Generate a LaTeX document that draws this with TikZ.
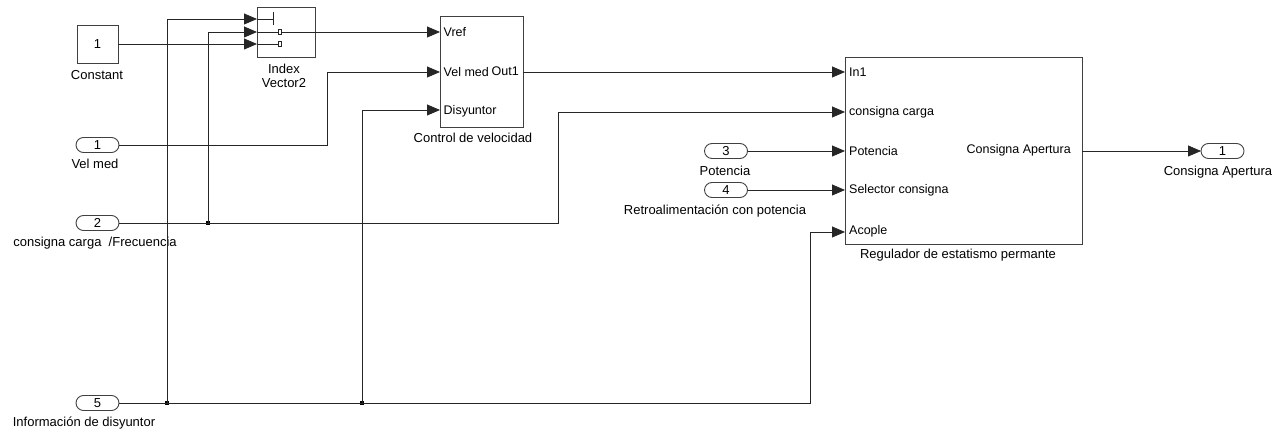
\documentclass[tikz,border=0pt]{standalone}
\usepackage{fontspec}
\setmainfont{Liberation Sans}
\usetikzlibrary{arrows.meta}
\begin{document}
\begin{tikzpicture}[x=1pt,y=-1pt,
  wire/.style={line width=0.8pt, draw=black!85},
  arr/.style={wire, -{Triangle[length=13pt,width=11pt]}},
  blk/.style={draw=black!75, line width=0.9pt, fill=white, inner sep=0pt, outer sep=0pt},
  capsule/.style={draw=black!75, line width=0.9pt, rounded corners=7.5pt, minimum width=43pt, minimum height=15pt, inner sep=0pt, outer sep=0pt, font=\fontsize{13}{13}\selectfont},
  lbl/.style={inner sep=0pt, font=\fontsize{13}{15}\selectfont},
  plbl/.style={inner sep=0pt, font=\fontsize{12.5}{14}\selectfont},
  dotj/.style={fill=black, minimum size=3.5pt, inner sep=0pt, outer sep=0pt}
]
\useasboundingbox (0,0) rectangle (1288,435);

% ---- blocks ----
\node[blk, minimum width=41pt, minimum height=38pt, font=\fontsize{13}{13}\selectfont] (const) at (97.5,44) {1};
\node[lbl] (constl) at (97,75) {Constant};

\node[blk, minimum width=58pt, minimum height=50pt] (idx) at (286,32) {};
\node[lbl, align=center, font=\fontsize{13}{14}\selectfont] (idxl) at (284,76) {Index\\Vector2};
\coordinate (idx-in1) at (257,19);
\coordinate (idx-in2) at (257,32);
\coordinate (idx-in3) at (257,44);
\coordinate (tick) at (273,19);
\draw[wire] (idx-in1) -- (tick);
\draw[wire] (273,12) -- (273,25);
\node[draw=black!85, line width=0.7pt, minimum width=3.5pt, minimum height=5.5pt, inner sep=0pt, outer sep=0pt] (sel2) at (280,32) {};
\node[draw=black!85, line width=0.7pt, minimum width=3.5pt, minimum height=5.5pt, inner sep=0pt, outer sep=0pt] (sel3) at (280,44) {};
\draw[wire] (idx-in2) -- (sel2.west);
\draw[wire] (idx-in3) -- (sel3.west);

\node[blk, minimum width=83pt, minimum height=111pt] (ctrl) at (481.5,71.5) {};
\coordinate (ctrl-in1) at (440,32);
\coordinate (ctrl-in2) at (440,72);
\coordinate (ctrl-in3) at (440,110);
\coordinate (ctrl-out) at (523,72);
\node[plbl, anchor=west] (pv) at (443.5,32) {Vref};
\node[plbl, anchor=west] (pvm) at (443.5,72) {Vel med};
\node[plbl, anchor=east] (po) at (519,71) {Out1};
\node[plbl, anchor=west] (pd) at (443.5,111) {Disyuntor};
\node[lbl] (ctrll) at (473,138) {Control de velocidad};

\node[blk, minimum width=237pt, minimum height=187pt] (reg) at (963.5,150.5) {};
\coordinate (reg-in1) at (845,72);
\coordinate (reg-in2) at (845,112);
\coordinate (reg-in3) at (845,151);
\coordinate (reg-in4) at (845,190);
\coordinate (reg-in5) at (845,232);
\coordinate (reg-out) at (1082,151);
\node[plbl, anchor=west] (r1) at (849,72) {In1};
\node[plbl, anchor=west] (r2) at (849,112) {consigna carga};
\node[plbl, anchor=west] (r3) at (849,151) {Potencia};
\node[plbl, anchor=west] (r4) at (849,190) {Selector consigna};
\node[plbl, anchor=west] (r5) at (849,231) {Acople};
\node[plbl, anchor=east] (ro) at (1071,150) {Consigna Apertura};
\node[lbl] (regl) at (958,255) {Regulador de estatismo permante};

% ---- ports ----
\node[capsule] (in1) at (97.5,145) {1};
\node[lbl] (in1l) at (95,164) {Vel med};
\node[capsule] (in2) at (97.5,223) {2};
\node[lbl] (in2l) at (95,243) {consigna carga\ \ /Frecuencia};
\node[capsule] (in3) at (726,151) {3};
\node[lbl] (in3l) at (725,171) {Potencia};
\node[capsule] (in4) at (726,190) {4};
\node[lbl] (in4l) at (715,211) {Retroalimentación con potencia};
\node[capsule] (in5) at (97.5,403) {5};
\node[lbl] (in5l) at (84,423) {Información de disyuntor};
\node[capsule] (out1) at (1222.5,151) {1};
\node[lbl] (out1l) at (1218,172) {Consigna Apertura};

% ---- junctions ----
\node[dotj] (j2) at (208,223) {};
\node[dotj] (j5a) at (167,403) {};
\node[dotj] (j5b) at (362,403) {};

% ---- connectors ----
\draw[arr] (const.east) -- (idx-in3);
\draw[arr] (sel2.east) -- (ctrl-in1);
\draw[arr] (in1.east) -- (327,145) -- (327,72) -- (ctrl-in2);
\draw[wire] (in2.east) -- (j2.center);
\draw[arr] (j2.center) -- (558,223) -- (558,112) -- (reg-in2);
\draw[arr] (j2.center) -- (208,32) -- (idx-in2);
\draw[wire] (in5.east) -- (j5a.center);
\draw[wire] (j5a.center) -- (j5b.center);
\draw[arr] (j5b.center) -- (810,403) -- (810,232) -- (reg-in5);
\draw[arr] (j5a.center) -- (167,19) -- (idx-in1);
\draw[arr] (j5b.center) -- (362,110) -- (ctrl-in3);
\draw[arr] (ctrl-out) -- (reg-in1);
\draw[arr] (in3.east) -- (reg-in3);
\draw[arr] (in4.east) -- (reg-in4);
\draw[arr] (reg-out) -- (out1.west);
\end{tikzpicture}
\end{document}
